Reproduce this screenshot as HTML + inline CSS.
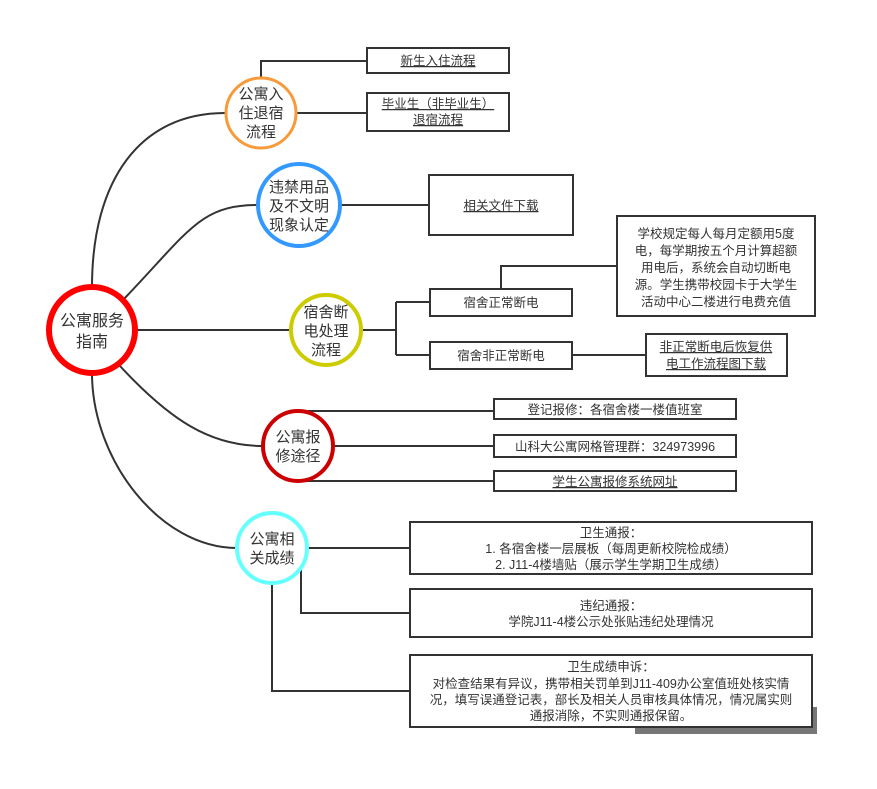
<!DOCTYPE html>
<html><head><meta charset="utf-8"><style>
html,body{margin:0;padding:0;background:#fff;}
svg{display:block;}
text{font-family:"Liberation Sans","Noto Sans CJK SC",sans-serif;fill:#333;}
.s{font-size:12.5px;}
.c{font-size:15px;}
.u{text-decoration:underline;}
</style></head><body>
<svg width="877" height="789" viewBox="0 0 877 789" xmlns="http://www.w3.org/2000/svg">
<g fill="none" stroke="#333" stroke-width="2">
<path d="M92,287 C92,180 140,113 225,113"/>
<path d="M123,300 C190,230 200,205 258,205"/>
<path d="M135,330 L291,330"/>
<path d="M120,366 C170,420 210,446 263,446"/>
<path d="M92,373 C92,460 160,548 237,548"/>
<path d="M261,78 L261,61 L367,61"/>
<path d="M297,113 L367,113"/>
<path d="M340,205 L429,205"/>
<path d="M361,330 L396,330"/>
<path d="M396,302 L396,355"/>
<path d="M396,302 L430,302"/>
<path d="M396,355 L430,355"/>
<path d="M501,289 L501,266 L617,266"/>
<path d="M572,355 L646,355"/>
<path d="M301,411 L494,411"/>
<path d="M333,446 L494,446"/>
<path d="M301,481 L494,481"/>
<path d="M307,548 L410,548"/>
<path d="M301,570 L301,613 L410,613"/>
<path d="M272,585 L272,691 L410,691"/>
</g>
<rect x="635" y="707" width="182" height="27" fill="#777"/>
<g fill="#fff" stroke="#333" stroke-width="2">
<rect x="367" y="48" width="142" height="25"/>
<rect x="367" y="93" width="142" height="38"/>
<rect x="429" y="175" width="144" height="60"/>
<rect x="617" y="216" width="198" height="100"/>
<rect x="430" y="289" width="142" height="27"/>
<rect x="430" y="342" width="142" height="27"/>
<rect x="646" y="334" width="141" height="42"/>
<rect x="494" y="399" width="242" height="20"/>
<rect x="494" y="435" width="242" height="22"/>
<rect x="494" y="471" width="242" height="20"/>
<rect x="410" y="522" width="402" height="52"/>
<rect x="410" y="589" width="402" height="48"/>
<rect x="410" y="655" width="402" height="72"/>
</g>
<circle cx="92" cy="330" r="43" fill="#fff" stroke="#f00" stroke-width="6"/>
<circle cx="261" cy="113" r="35" fill="#fff" stroke="#f99a3a" stroke-width="3"/>
<circle cx="299" cy="205" r="41" fill="#fff" stroke="#3399ff" stroke-width="4"/>
<circle cx="326" cy="330" r="35" fill="#fff" stroke="#cccc00" stroke-width="4"/>
<circle cx="298" cy="446" r="35" fill="#fff" stroke="#cc0000" stroke-width="4"/>
<circle cx="272" cy="548" r="35" fill="#fff" stroke="#66ffff" stroke-width="4"/>
<g class="c" text-anchor="middle">
<text x="92" y="326" font-size="16">公寓服务</text><text x="92" y="347" font-size="16">指南</text>
<text x="261" y="99">公寓入</text><text x="261" y="118">住退宿</text><text x="261" y="137">流程</text>
<text x="299" y="192">违禁用品</text><text x="299" y="211">及不文明</text><text x="299" y="230">现象认定</text>
<text x="326" y="317">宿舍断</text><text x="326" y="336">电处理</text><text x="326" y="355">流程</text>
<text x="298" y="442">公寓报</text><text x="298" y="461">修途径</text>
<text x="272" y="544">公寓相</text><text x="272" y="563">关成绩</text>
</g>
<g class="s" text-anchor="middle">
<text x="438" y="65" class="u">新生入住流程</text>
<text x="438" y="108" class="u">毕业生（非毕业生）</text>
<text x="438" y="124" class="u">退宿流程</text>
<text x="501" y="210" class="u">相关文件下载</text>
<text x="716" y="238">学校规定每人每月定额用5度</text>
<text x="716" y="255">电，每学期按五个月计算超额</text>
<text x="716" y="272">用电后，系统会自动切断电</text>
<text x="716" y="289">源。学生携带校园卡于大学生</text>
<text x="716" y="306">活动中心二楼进行电费充值</text>
<text x="501" y="307">宿舍正常断电</text>
<text x="501" y="360">宿舍非正常断电</text>
<text x="716" y="351" class="u">非正常断电后恢复供</text>
<text x="716" y="368" class="u">电工作流程图下载</text>
<text x="615" y="414">登记报修：各宿舍楼一楼值班室</text>
<text x="615" y="451">山科大公寓网格管理群：324973996</text>
<text x="615" y="486" class="u">学生公寓报修系统网址</text>
<text x="611" y="537">卫生通报：</text>
<text x="611" y="553">1. 各宿舍楼一层展板（每周更新校院检成绩）</text>
<text x="611" y="569">2. J11-4楼墙贴（展示学生学期卫生成绩）</text>
<text x="611" y="610">违纪通报：</text>
<text x="611" y="626">学院J11-4楼公示处张贴违纪处理情况</text>
<text x="611" y="671">卫生成绩申诉：</text>
<text x="611" y="688">对检查结果有异议，携带相关罚单到J11-409办公室值班处核实情</text>
<text x="611" y="704">况，填写误通登记表，部长及相关人员审核具体情况，情况属实则</text>
<text x="611" y="720">通报消除，不实则通报保留。</text>
</g>
</svg>
</body></html>
